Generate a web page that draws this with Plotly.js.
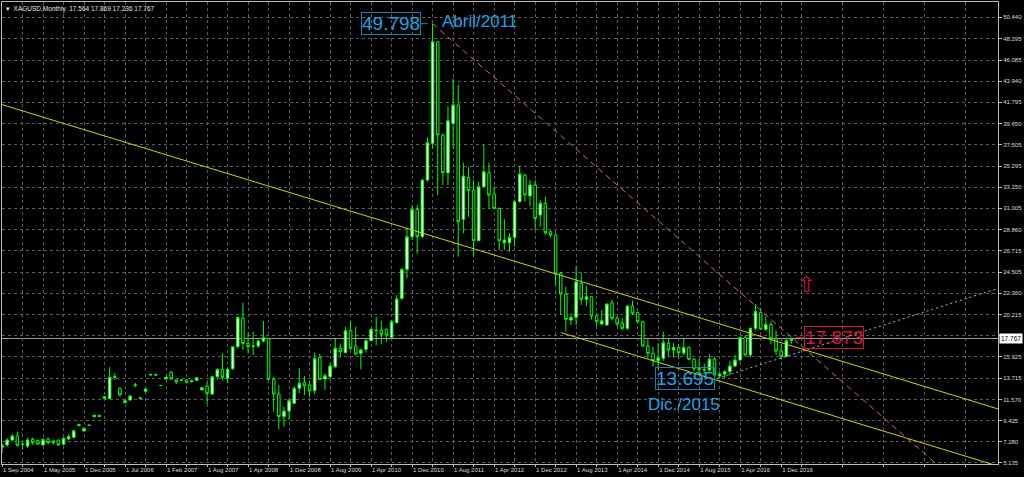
<!DOCTYPE html>
<html>
<head>
<meta charset="utf-8">
<script src="https://cdn.plot.ly/plotly-3.0.1.min.js"></script>
<style>
html,body{margin:0;padding:0;background:#000;}
#chart{width:1024px;height:477px;}
</style>
</head>
<body>
<div id="chart"></div>
<script>
// ---- Monthly XAGUSD bars (bar index 0 = 1 Sep 2004) ----
const opens = [6.70,6.94,7.44,7.85,6.98,6.83,7.51,7.38,6.93,7.55,7.34,7.44,7.00,7.55,7.72,8.90,8.36,8.95,9.81,9.95,
11.68,11.65,13.90,12.70,11.24,11.51,13.05,11.70,12.40,14.05,14.12,13.00,13.65,14.33,13.55,13.56,13.55,13.50,13.51,12.53,
12.93,12.12,13.88,14.63,13.72,14.70,16.94,19.82,17.27,16.98,17.00,17.51,17.78,13.61,12.12,9.82,10.39,11.17,12.70,13.27,
13.04,12.46,15.82,13.65,13.88,14.90,16.77,16.33,18.56,17.00,16.26,16.67,17.55,18.62,18.63,18.70,17.88,19.38,21.85,24.80,
28.13,30.90,28.13,33.89,37.62,47.96,38.47,34.63,39.65,41.52,29.89,34.16,32.87,27.72,33.21,34.63,32.46,31.00,27.51,27.51,
28.06,31.69,34.40,32.27,33.38,30.33,31.52,28.63,28.30,24.40,22.29,19.65,19.92,23.38,21.75,22.02,20.06,19.24,19.14,21.41,
19.82,19.31,18.80,21.07,20.40,19.48,17.00,16.26,15.51,15.75,17.27,16.60,16.85,16.30,16.85,15.65,14.70,14.60,14.56,15.65,
13.95,14.15,14.40,14.97,15.58,17.88,16.09,18.80,20.40,18.72,19.20,17.75,16.50,15.95,17.564];
const highs = [7.10,7.61,8.05,8.29,7.27,7.68,7.71,7.50,7.55,7.72,7.45,7.50,7.70,8.05,8.45,9.05,8.70,9.00,10.00,10.00,
11.90,14.84,14.22,12.80,11.50,12.02,13.27,11.85,12.70,14.15,14.15,13.05,13.90,14.46,13.60,13.60,13.62,13.58,13.80,12.80,
13.30,13.95,14.70,16.26,14.84,17.00,19.99,21.41,18.29,18.46,17.68,19.55,17.85,13.88,13.04,10.83,11.68,12.87,14.73,13.95,
13.38,16.33,16.19,14.22,15.24,17.78,17.27,18.97,19.58,18.97,16.77,17.68,18.80,19.99,19.55,18.80,19.65,22.20,24.90,28.97,
31.35,31.35,33.96,38.23,49.798,48.00,38.64,41.42,44.23,43.55,35.65,35.24,33.89,33.72,37.45,35.65,33.21,31.10,29.92,28.46,
31.86,35.35,34.50,33.89,33.89,31.86,32.20,28.80,28.46,24.56,23.04,20.33,25.14,24.46,23.11,22.09,20.33,20.67,21.35,21.68,
20.06,19.82,21.18,21.62,20.50,19.58,17.78,16.94,17.30,18.46,17.78,17.30,17.20,17.80,16.95,15.80,15.70,15.20,16.20,15.90,
14.40,14.55,15.50,16.09,17.95,18.10,18.90,21.28,20.84,20.00,19.48,18.60,17.20,17.85,17.869];
const lows = [6.10,6.76,7.30,6.76,6.43,6.60,6.93,6.95,6.90,7.00,7.00,6.85,6.90,7.45,7.60,8.85,8.30,8.90,9.80,9.75,
11.60,11.60,13.55,11.85,11.20,11.44,12.80,11.58,12.35,14.00,14.00,12.95,13.60,13.55,13.14,13.50,13.20,13.27,13.50,12.50,
11.10,12.02,13.60,13.50,13.27,14.56,16.77,16.60,16.26,16.09,16.83,17.40,13.55,10.33,8.53,8.80,9.48,11.10,12.19,12.02,
11.78,12.12,13.55,12.53,13.55,14.73,15.85,16.26,16.60,16.09,14.63,16.33,17.44,17.10,17.20,17.44,17.78,19.31,21.70,23.90,
27.80,26.40,27.96,33.72,37.10,32.36,33.38,33.38,37.10,26.09,28.46,30.16,26.09,27.72,33.14,30.99,30.90,26.77,26.77,26.60,
27.10,31.60,31.69,31.20,28.80,29.14,28.30,28.06,23.21,20.16,18.46,19.14,19.14,21.18,21.07,19.72,18.97,19.14,19.04,19.65,
18.97,18.63,18.63,20.16,19.31,16.94,15.75,14.90,14.60,15.50,15.92,15.80,15.70,16.10,15.55,14.40,14.00,14.20,14.40,13.90,
13.695,13.75,14.00,14.85,15.45,15.95,15.85,18.60,18.63,18.50,17.20,16.10,15.65,15.85,17.236];
const closes = [6.90,7.44,7.85,6.90,7.00,7.44,7.17,7.04,7.51,7.17,7.17,6.93,7.61,7.78,8.39,9.00,8.63,8.93,9.97,9.85,
11.85,13.82,13.80,12.02,11.44,11.92,13.00,11.68,12.63,14.12,14.05,12.98,13.82,13.65,13.34,13.54,13.31,13.40,13.78,12.77,
12.19,13.88,14.63,13.82,14.63,16.94,19.92,17.27,16.94,17.00,17.51,17.85,13.61,12.12,9.82,10.39,11.44,12.70,13.21,12.94,
12.43,15.75,13.61,13.99,14.97,16.77,16.43,18.56,16.77,16.19,16.60,17.55,18.70,18.58,18.20,18.12,19.48,21.79,24.80,28.13,
30.90,28.13,33.89,37.69,47.96,38.47,34.63,39.92,41.52,29.65,34.30,32.80,27.72,33.21,34.74,32.36,31.00,27.72,27.79,28.06,
31.69,34.50,32.36,33.38,29.99,31.52,28.53,28.30,24.33,22.29,19.72,19.92,23.55,21.75,22.02,20.06,19.48,19.58,21.28,19.82,
19.24,18.80,21.07,20.33,19.48,17.00,16.26,15.51,15.80,17.34,16.60,16.85,16.30,16.85,15.65,14.70,14.60,14.56,15.65,14.05,
14.15,14.40,14.97,15.58,17.88,16.09,18.80,20.50,18.72,19.20,17.75,16.50,15.95,17.55,17.767];

// x-axis labels (every 8th bar)
const tickBars = [0,8,16,24,32,40,48,56,64,72,80,88,96,104,112,120,128,136,144,152];
const tickLabels = ["1 Sep 2004","1 May 2005","1 Dec 2005","1 Jul 2006","1 Feb 2007","1 Aug 2007","1 Apr 2008",
"1 Dec 2008","1 Aug 2009","1 Apr 2010","1 Dec 2010","1 Aug 2011","1 Apr 2012","1 Dec 2012","1 Aug 2013",
"1 Apr 2014","1 Dec 2014","1 Aug 2015","1 Apr 2016","1 Dec 2016"];
// price scale labels (18.070 sits under the current-price box)
const priceTicks = [50.440,48.295,46.085,43.940,41.795,39.650,37.505,35.295,33.150,31.005,28.860,26.715,24.505,
22.360,20.215,18.070,15.925,13.715,11.570,9.425,7.280,5.135];
const hiddenTick = 18.070;

// analysis objects (bar index, price)
const channelTop = [[0,41.56],[194.3,10.60]];
const channelBottom = [[109.1,18.36],[194.3,4.79]];
const peakLine = [[84,49.798],[182.3,5.0]];
const lowLine = [[139.5,13.695],[194.3,22.87]];
const peakLabel = {bar:84, price:49.798, date:"Abril/2011"};
const lowLabel = {bar:140, price:13.695, date:"Dic./2015"};
const targetLabel = {bar:156.4, price:17.873};
const arrowPoint = {bar:156.9, price:23.3};

const n = closes.length;
const bars = Array.from({length:n},(_,i)=>i);
const last = n-1;
const currentPrice = closes[last];

const GRID = "#5c5c5c";
const BLUE = "#1ea4e6";
const BLUEBOX = "#1b7fb3";
const RED = "#d0183f";
const SMALL = "Liberation Sans, Arial, sans-serif";
const fmt = v => v.toFixed(3);

const trace = {
  type:"candlestick",
  x:bars, open:opens, high:highs, low:lows, close:closes,
  increasing:{line:{color:"#00ff00",width:1},fillcolor:"#ffffff"},
  decreasing:{line:{color:"#00ff00",width:1},fillcolor:"#000000"},
  whiskerwidth:0,
  hoverinfo:"skip",
  showlegend:false
};

function seg(p, color, dash){
  return {type:"line",xref:"x",yref:"y",x0:p[0][0],y0:p[0][1],x1:p[1][0],y1:p[1][1],
          line:{color:color,width:1,dash:dash||"solid"},layer:"above"};
}
const shapes = [
  {type:"line",xref:"paper",yref:"y",x0:0,x1:1,y0:currentPrice,y1:currentPrice,line:{color:"#9a9a9a",width:1},layer:"below"},
  seg(channelTop,"#d2d200"),
  seg(channelBottom,"#d2d200"),
  seg(peakLine,"#c4735a","6px,4px"),
  seg(lowLine,"#a9b9c7","2px,3px"),
  {type:"line",xref:"x",yref:"y",x0:peakLabel.bar-2.25,x1:peakLabel.bar-0.9,y0:peakLabel.price,y1:peakLabel.price,line:{color:BLUEBOX,width:1}},
  {type:"line",xref:"x",yref:"y",x0:targetLabel.bar-1.6,x1:targetLabel.bar,y0:targetLabel.price,y1:targetLabel.price,line:{color:RED,width:1}}
];

const annotations = [
  {xref:"paper",yref:"paper",x:0.002,y:1,xanchor:"left",yanchor:"top",yshift:-1,showarrow:false,
   text:"▾  XAGUSD,Monthly  "+[opens[last],highs[last],lows[last],closes[last]].map(fmt).join(" "),
   font:{family:SMALL,size:6.5,color:"#e6e6e6"}},
  {xref:"x",yref:"y",x:peakLabel.bar-2.25,y:peakLabel.price,xanchor:"right",yanchor:"middle",showarrow:false,
   text:fmt(peakLabel.price),font:{family:"Liberation Sans, Arial",size:19,color:BLUE},
   bordercolor:BLUEBOX,borderwidth:1,borderpad:0},
  {xref:"x",yref:"y",x:peakLabel.bar+1.45,y:peakLabel.price,yshift:2,xanchor:"left",yanchor:"middle",showarrow:false,
   text:peakLabel.date,font:{family:"Liberation Sans, Arial",size:17,color:BLUE}},
  {xref:"x",yref:"y",x:lowLabel.bar-1,y:lowLabel.price,xanchor:"right",yanchor:"middle",showarrow:false,
   text:fmt(lowLabel.price),font:{family:"Liberation Sans, Arial",size:19,color:BLUE},
   bordercolor:BLUEBOX,borderwidth:1,borderpad:0},
  {xref:"x",yref:"y",x:lowLabel.bar-6.9,y:lowLabel.price,yshift:-26,xanchor:"center",yanchor:"middle",showarrow:false,
   text:lowLabel.date,font:{family:"Liberation Sans, Arial",size:17,color:BLUE}},
  {xref:"x",yref:"y",x:targetLabel.bar,y:targetLabel.price,xanchor:"left",yanchor:"middle",showarrow:false,
   text:fmt(targetLabel.price),font:{family:"Liberation Sans, Arial",size:19,color:RED},
   bordercolor:RED,borderwidth:1,borderpad:0},
  {xref:"x",yref:"y",x:arrowPoint.bar,y:arrowPoint.price,xanchor:"center",yanchor:"middle",showarrow:false,
   text:"⇧",font:{family:"DejaVu Sans",size:22,color:RED}},
  {xref:"paper",yref:"y",x:1,y:currentPrice,xanchor:"left",yanchor:"middle",xshift:1,showarrow:false,
   text:fmt(currentPrice),font:{family:SMALL,size:6.5,color:"#000"},
   bgcolor:"#ffffff",borderpad:1}
];

const minorBars = [];
for(let i=4;i<195;i+=8) minorBars.push(i);

const layout = {
  width:1024,height:477,
  paper_bgcolor:"#000",plot_bgcolor:"#000",
  margin:{l:2,r:26,t:2,b:13},
  showlegend:false,
  dragmode:false,
  xaxis:{
    type:"linear",range:[0,194.3],
    rangeslider:{visible:false},
    tickmode:"array",tickvals:tickBars,ticktext:tickLabels,
    ticks:"outside",ticklen:2,tickcolor:"#bdbdbd",
    tickangle:0,
    ticklabelposition:"outside right",
    ticklabelstandoff:0,
    tickfont:{family:SMALL,size:6,color:"#dcdcdc"},
    showgrid:true,gridcolor:GRID,griddash:"3px,3px",gridwidth:1,
    minor:{tickmode:"array",tickvals:minorBars,showgrid:true,gridcolor:GRID,griddash:"3px,3px",ticks:"outside",ticklen:2,tickcolor:"#bdbdbd"},
    showline:true,linecolor:"#bdbdbd",linewidth:1,mirror:true,
    zeroline:false,fixedrange:true
  },
  yaxis:{
    side:"right",range:[5.0,52.0],
    tickmode:"array",tickvals:priceTicks,ticktext:priceTicks.map(v => v===hiddenTick ? "" : fmt(v)),
    ticks:"outside",ticklen:3,tickcolor:"#bdbdbd",
    tickfont:{family:SMALL,size:6,color:"#dcdcdc"},
    showgrid:true,gridcolor:GRID,griddash:"3px,3px",gridwidth:1,
    showline:true,linecolor:"#bdbdbd",linewidth:1,mirror:true,
    zeroline:false,fixedrange:true
  },
  shapes:shapes,
  annotations:annotations
};

Plotly.newPlot("chart",[trace],layout,{displayModeBar:false,staticPlot:true});
</script>
</body>
</html>
